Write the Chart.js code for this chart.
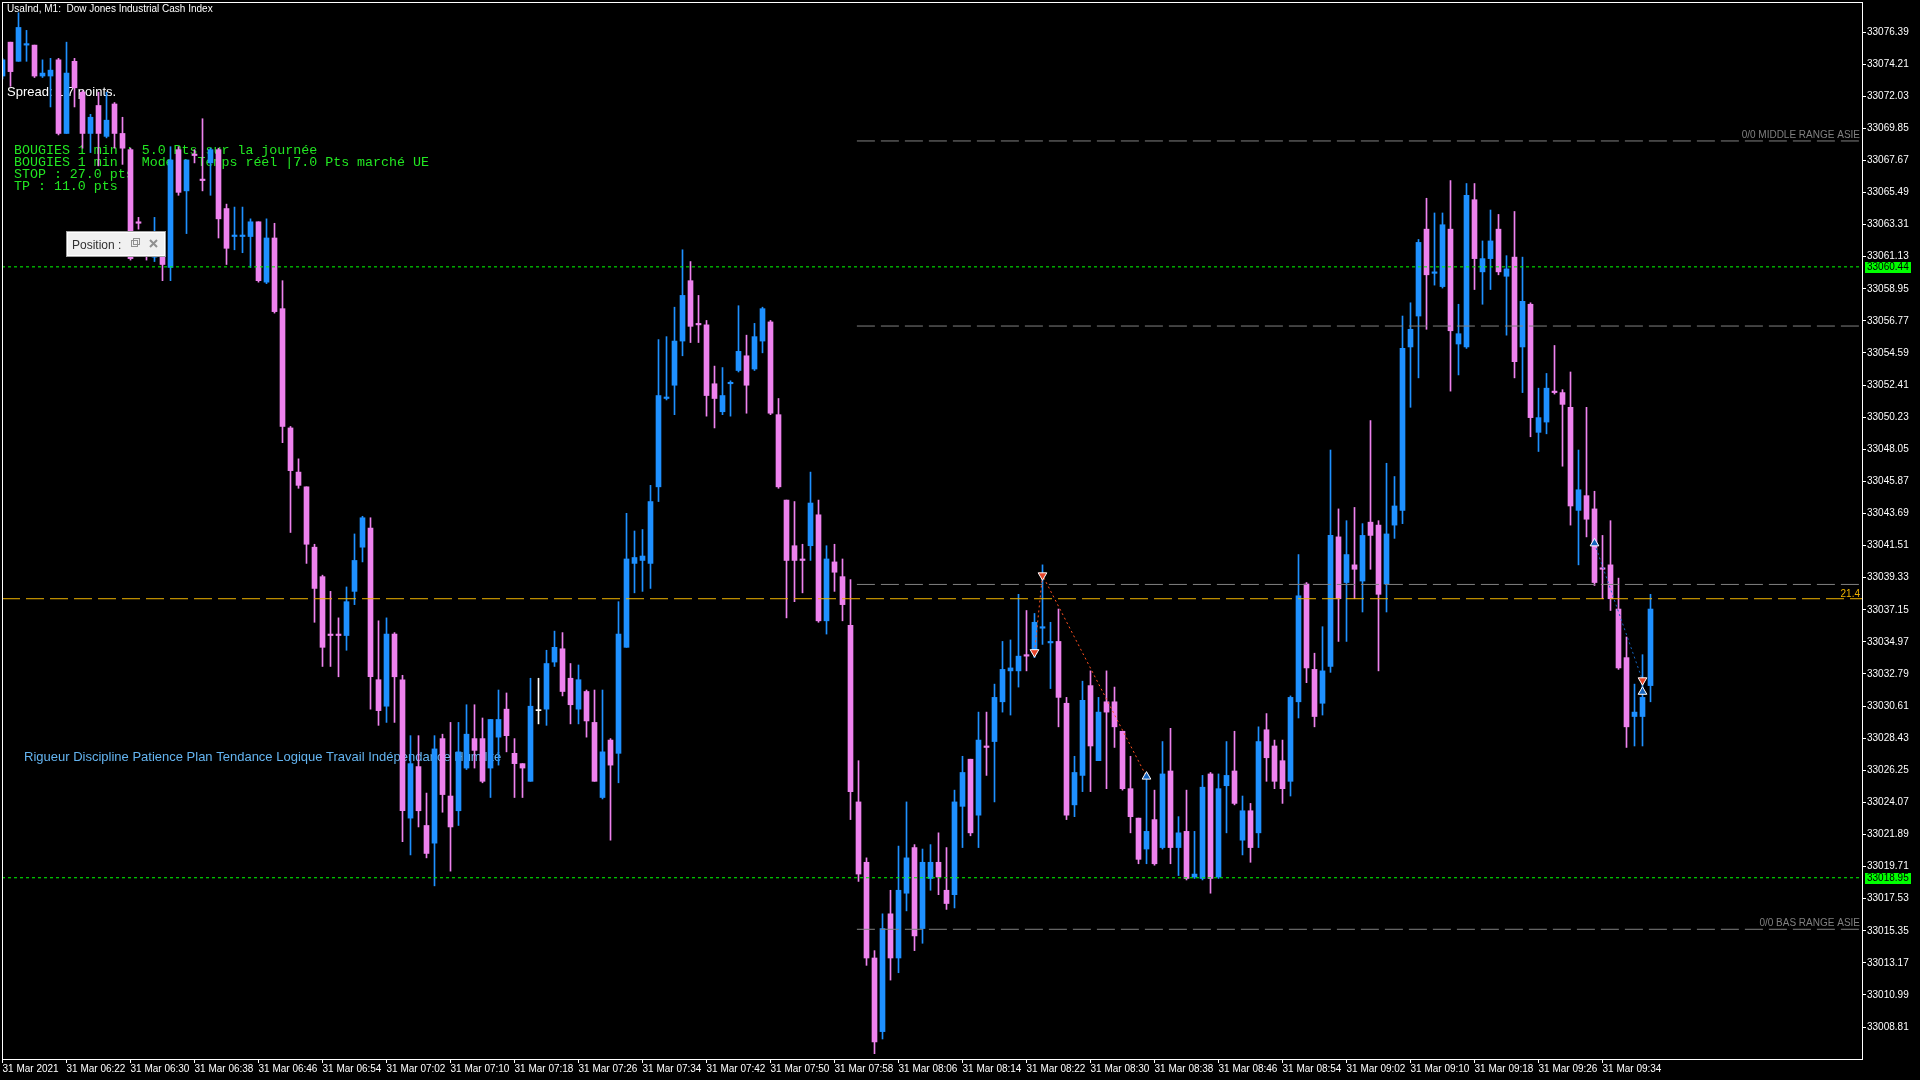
<!DOCTYPE html>
<html>
<head>
<meta charset="utf-8">
<script src="https://cdn.jsdelivr.net/npm/chart.js@4.4.1/dist/chart.umd.min.js"></script>
<style>
html, body { margin: 0; padding: 0; background: #000; }
canvas { display: block; }
</style>
</head>
<body>
<canvas id="ctx_usaind" width="1920" height="1080"></canvas>
<script>
// UsaInd M1, 31 Mar 2021, one bar per minute from 06:14 to 09:40
var opens = [
  33073.4, 33075.7, 33074.4, 33075.5, 33075.5, 33073.4, 33073.4, 33074.5, 33069.5, 33074.4,
  33072.3, 33069.5, 33071.4, 33069.3, 33071.5, 33069.5, 33068.4, 33063.5, 33062.3, 33061.1,
  33061.2, 33060.4, 33068.4, 33065.6, 33068.1, 33066.4, 33067.5, 33068.4, 33064.4, 33062.5,
  33062.5, 33062.5, 33063.5, 33059.4, 33062.4, 33057.6, 33049.5, 33046.5, 33045.5, 33041.4,
  33039.4, 33035.5, 33035.5, 33035.4, 33038.4, 33041.4, 33042.7, 33032.4, 33030.6, 33035.5,
  33032.4, 33023.0, 33026.5, 33022.5, 33021.3, 33028.4, 33024.5, 33023.5, 33026.4, 33028.4,
  33028.4, 33026.4, 33028.5, 33030.4, 33027.4, 33026.7, 33025.5, 33030.3, 33030.4, 33033.6,
  33034.5, 33032.5, 33030.4, 33031.6, 33029.5, 33024.4, 33028.3, 33027.4, 33034.6, 33040.3,
  33040.5, 33040.3, 33045.5, 33051.5, 33052.4, 33055.4, 33059.5, 33056.6, 33056.5, 33052.5,
  33050.6, 33052.5, 33053.4, 33054.4, 33053.5, 33055.4, 33056.7, 33050.4, 33044.6, 33041.5,
  33040.6, 33041.5, 33043.6, 33036.4, 33040.4, 33039.4, 33036.1, 33024.1, 33020.0, 33013.5,
  33008.5, 33016.5, 33013.5, 33017.9, 33021.0, 33015.5, 33018.9, 33020.0, 33018.1, 33017.8,
  33023.8, 33027.0, 33023.2, 33027.9, 33028.2, 33030.9, 33033.0, 33033.0, 33034.1, 33034.2,
  33035.9, 33034.9, 33035.0, 33030.8, 33023.9, 33025.9, 33032.0, 33026.9, 33030.9, 33030.9,
  33028.9, 33025.0, 33023.0, 33020.9, 33022.9, 33021.0, 33026.2, 33021.0, 33022.1, 33019.0,
  33018.9, 33026.0, 33019.0, 33025.2, 33026.2, 33021.5, 33023.5, 33022.0, 33029.0, 33027.9,
  33026.9, 33025.5, 33030.9, 33038.9, 33033.1, 33030.8, 33033.3, 33042.1, 33039.0, 33040.2,
  33039.1, 33043.1, 33042.9, 33038.9, 33042.9, 33043.9, 33055.0, 33057.1, 33063.0, 33060.0,
  33059.1, 33063.0, 33055.2, 33055.0, 33065.0, 33060.1, 33061.0, 33063.0, 33059.8, 33061.1,
  33055.0, 33057.9, 33049.2, 33049.9, 33052.0, 33051.9, 33050.9, 33043.9, 33044.9, 33044.0,
  33040.0, 33040.2, 33037.2, 33033.9, 33029.9, 33029.9, 33032.0
];
var highs = [
  33074.6, 33075.7, 33077.7, 33076.5, 33075.5, 33074.5, 33074.6, 33074.6, 33075.7, 33074.6,
  33072.4, 33070.8, 33072.3, 33072.3, 33071.6, 33070.6, 33068.5, 33063.8, 33062.6, 33063.8,
  33061.8, 33068.6, 33068.6, 33067.7, 33068.4, 33070.5, 33068.5, 33068.5, 33064.7, 33064.5,
  33064.5, 33063.7, 33063.5, 33063.7, 33063.4, 33059.5, 33049.6, 33047.4, 33045.5, 33041.6,
  33039.5, 33038.4, 33036.6, 33038.7, 33042.3, 33043.5, 33043.4, 33036.4, 33036.6, 33035.6,
  33032.7, 33028.6, 33028.6, 33024.7, 33028.6, 33028.7, 33029.5, 33029.5, 33030.7, 33030.7,
  33029.8, 33029.7, 33031.7, 33031.5, 33028.4, 33026.7, 33032.5, 33032.5, 33034.4, 33035.7,
  33035.6, 33033.5, 33033.4, 33031.7, 33031.7, 33031.7, 33028.4, 33037.7, 33043.7, 33042.5,
  33042.6, 33045.6, 33055.5, 33055.7, 33057.7, 33061.6, 33060.8, 33058.5, 33056.8, 33053.7,
  33053.6, 33052.7, 33057.8, 33055.8, 33056.6, 33057.7, 33056.8, 33051.5, 33044.6, 33044.5,
  33041.6, 33046.5, 33044.6, 33041.5, 33041.6, 33040.6, 33039.2, 33026.9, 33020.3, 33014.0,
  33016.5, 33018.1, 33021.1, 33024.1, 33021.2, 33020.9, 33021.2, 33022.0, 33021.0, 33024.9,
  33027.2, 33027.0, 33030.2, 33030.2, 33032.1, 33035.0, 33035.1, 33038.2, 33037.1, 33036.9,
  33040.2, 33036.3, 33037.2, 33031.2, 33027.2, 33032.3, 33033.0, 33031.2, 33033.0, 33031.9,
  33028.9, 33027.2, 33023.0, 33026.0, 33024.9, 33028.2, 33029.1, 33023.1, 33024.9, 33022.1,
  33025.9, 33026.1, 33026.0, 33028.2, 33028.9, 33024.5, 33024.0, 33029.2, 33030.1, 33028.3,
  33028.3, 33031.3, 33040.9, 33039.0, 33034.2, 33036.0, 33048.0, 33044.0, 33043.2, 33044.1,
  33043.0, 33050.0, 33043.2, 33047.1, 33046.2, 33057.1, 33058.0, 33062.3, 33065.1, 33064.1,
  33064.1, 33066.3, 33057.9, 33066.1, 33066.1, 33062.2, 33064.3, 33064.0, 33061.2, 33064.2,
  33061.1, 33058.0, 33052.2, 33053.2, 33055.1, 33052.1, 33053.3, 33048.0, 33050.9, 33045.2,
  33042.2, 33043.2, 33039.3, 33035.3, 33032.1, 33034.1, 33038.2
];
var lows = [
  33073.2, 33072.7, 33074.4, 33074.4, 33073.3, 33073.3, 33071.3, 33069.4, 33069.5, 33071.3,
  33068.5, 33068.2, 33067.3, 33069.2, 33068.5, 33067.4, 33060.9, 33063.0, 33060.9, 33060.8,
  33059.5, 33059.5, 33065.3, 33062.7, 33067.5, 33065.6, 33065.3, 33062.4, 33060.6, 33061.6,
  33061.4, 33060.4, 33059.4, 33059.3, 33057.3, 33048.5, 33042.4, 33045.4, 33040.3, 33036.3,
  33033.3, 33033.3, 33032.6, 33034.4, 33037.5, 33040.4, 33030.4, 33029.3, 33029.5, 33029.5,
  33021.4, 33020.5, 33022.4, 33020.3, 33018.4, 33023.4, 33019.4, 33022.5, 33026.3, 33026.4,
  33025.4, 33024.4, 33026.6, 33027.5, 33024.4, 33024.4, 33025.5, 33029.4, 33029.3, 33033.3,
  33031.3, 33029.4, 33029.4, 33028.5, 33025.5, 33024.3, 33021.5, 33025.4, 33034.6, 33038.3,
  33038.4, 33038.6, 33044.5, 33051.4, 33050.4, 33054.4, 33055.3, 33055.3, 33050.3, 33049.5,
  33050.4, 33050.3, 33053.3, 33050.5, 33053.4, 33054.6, 33050.4, 33045.4, 33036.6, 33037.7,
  33038.3, 33040.5, 33036.3, 33035.5, 33038.4, 33036.4, 33022.9, 33018.7, 33013.0, 33007.0,
  33008.0, 33012.0, 33012.5, 33016.7, 33014.0, 33014.5, 33018.1, 33017.8, 33016.8, 33016.9,
  33021.0, 33021.8, 33021.0, 33025.9, 33024.1, 33030.2, 33030.0, 33031.9, 33033.0, 33033.9,
  33034.8, 33031.8, 33029.2, 33022.9, 33023.1, 33024.8, 33024.8, 33026.9, 33025.0, 33027.8,
  33024.9, 33022.0, 33019.9, 33019.9, 33019.8, 33020.9, 33019.9, 33019.1, 33018.8, 33018.9,
  33018.8, 33017.9, 33018.9, 33022.0, 33023.9, 33020.5, 33020.0, 33021.0, 33025.5, 33025.0,
  33024.0, 33024.5, 33029.8, 33032.2, 33029.2, 33030.0, 33032.9, 33035.0, 33035.0, 33037.9,
  33037.0, 33039.9, 33033.0, 33037.0, 33042.0, 33043.0, 33050.9, 33052.9, 33056.2, 33059.2,
  33059.0, 33052.0, 33053.1, 33054.9, 33058.9, 33057.9, 33058.9, 33059.9, 33055.8, 33052.9,
  33051.9, 33048.9, 33047.9, 33049.1, 33051.8, 33046.9, 33042.9, 33040.2, 33042.1, 33038.8,
  33037.9, 33037.1, 33033.1, 33027.8, 33027.9, 33027.9, 33030.9
];
var closes = [
  33074.5, 33073.7, 33076.7, 33075.6, 33073.4, 33073.6, 33073.8, 33069.5, 33073.6, 33072.6,
  33069.5, 33070.6, 33069.5, 33070.4, 33069.5, 33068.5, 33061.0, 33063.4, 33061.2, 33062.3,
  33060.6, 33067.7, 33065.5, 33067.7, 33068.0, 33066.3, 33068.4, 33063.7, 33061.7, 33062.6,
  33062.6, 33063.5, 33059.5, 33062.4, 33057.4, 33049.6, 33046.6, 33045.6, 33041.6, 33038.6,
  33034.6, 33035.4, 33035.4, 33037.7, 33040.5, 33043.4, 33032.6, 33030.3, 33035.5, 33032.6,
  33023.5, 33026.7, 33023.5, 33020.6, 33027.7, 33024.6, 33022.4, 33027.5, 33028.7, 33027.6,
  33025.5, 33029.7, 33029.7, 33028.6, 33026.7, 33026.4, 33030.6, 33030.3, 33033.5, 33034.6,
  33031.6, 33030.7, 33032.4, 33029.6, 33025.5, 33027.5, 33026.6, 33035.5, 33040.6, 33040.7,
  33040.8, 33044.5, 33051.7, 33051.6, 33055.4, 33058.5, 33056.4, 33056.5, 33051.7, 33051.5,
  33051.7, 33052.6, 33054.7, 33052.4, 33055.7, 33057.6, 33050.5, 33045.5, 33040.5, 33040.5,
  33040.5, 33044.4, 33036.4, 33040.6, 33039.7, 33037.5, 33024.8, 33019.2, 33013.5, 33007.8,
  33015.5, 33013.5, 33018.1, 33020.3, 33015.0, 33020.0, 33020.0, 33019.0, 33017.2, 33024.1,
  33026.1, 33022.0, 33028.3, 33027.8, 33031.2, 33033.1, 33033.2, 33034.0, 33034.0, 33036.3,
  33036.0, 33035.0, 33031.2, 33023.2, 33026.1, 33031.0, 33027.9, 33030.2, 33030.2, 33029.2,
  33025.0, 33023.1, 33020.2, 33022.1, 33019.9, 33026.0, 33021.0, 33022.0, 33018.9, 33019.2,
  33025.1, 33018.9, 33025.0, 33025.9, 33024.0, 33023.5, 33021.0, 33028.2, 33027.1, 33025.5,
  33025.0, 33031.2, 33038.1, 33033.2, 33029.9, 33033.0, 33042.2, 33037.9, 33040.9, 33039.9,
  33042.2, 33042.2, 33038.2, 33042.3, 33044.2, 33054.9, 33056.2, 33062.1, 33059.9, 33060.1,
  33063.3, 33056.1, 33055.9, 33065.3, 33061.0, 33061.0, 33062.2, 33060.1, 33060.3, 33054.0,
  33058.1, 33050.2, 33050.2, 33052.2, 33051.9, 33051.1, 33044.2, 33045.3, 33043.3, 33039.0,
  33039.9, 33037.9, 33033.2, 33029.2, 33030.2, 33031.2, 33037.2
];

var timeTickBars = [0, 8, 16, 24, 32, 40, 48, 56, 64, 72, 80, 88, 96, 104, 112, 120, 128, 136, 144, 152, 160, 168, 176, 184, 192, 200];
var timeLabels = [
  '31 Mar 2021', '31 Mar 06:22', '31 Mar 06:30', '31 Mar 06:38', '31 Mar 06:46', '31 Mar 06:54',
  '31 Mar 07:02', '31 Mar 07:10', '31 Mar 07:18', '31 Mar 07:26', '31 Mar 07:34', '31 Mar 07:42',
  '31 Mar 07:50', '31 Mar 07:58', '31 Mar 08:06', '31 Mar 08:14', '31 Mar 08:22', '31 Mar 08:30',
  '31 Mar 08:38', '31 Mar 08:46', '31 Mar 08:54', '31 Mar 09:02', '31 Mar 09:10', '31 Mar 09:18',
  '31 Mar 09:26', '31 Mar 09:34'
];
var priceTicks = [
  33076.39, 33074.21, 33072.03, 33069.85, 33067.67, 33065.49, 33063.31, 33061.13,
  33058.95, 33056.77, 33054.59, 33052.41, 33050.23, 33048.05, 33045.87, 33043.69,
  33041.51, 33039.33, 33037.15, 33034.97, 33032.79, 33030.61, 33028.43, 33026.25,
  33024.07, 33021.89, 33019.71, 33017.53, 33015.35, 33013.17, 33010.99, 33008.81
];

var greenLevels = [33060.44, 33018.95];
var grayLevels = [33068.99, 33056.42, 33038.87, 33015.45];
var grayLabels = ['0/0 MIDDLE RANGE ASIE', '', '', '0/0 BAS RANGE ASIE'];
var grayStartBar = 106.8;
var yellowLevel = 33037.90;
var yellowLabel = '21.4';

var sellTrade = [{ x: 129, y: 33034.27 }, { x: 130, y: 33039.49 }, { x: 143, y: 33025.82 }];
var buyTrade = [{ x: 199, y: 33041.66 }, { x: 205, y: 33032.36 }];
var downArrows = [{ x: 129, y: 33034.27 }, { x: 130, y: 33039.49 }, { x: 205, y: 33032.36 }];
var upArrows = [{ x: 143, y: 33025.82 }, { x: 199, y: 33041.66 }, { x: 205, y: 33031.58 }];

var X_MIN = -0.0625, X_MAX = 232.4375;
var Y_MIN = 33006.64, Y_MAX = 33078.36;

var BULL = '#1e90ff', BEAR = '#ee82ee', DOJI = '#ffffff';

var candleColors = opens.map(function (o, i) {
  if (closes[i] > o) return BULL;
  if (closes[i] < o) return BEAR;
  return DOJI;
});
var bodies = opens.map(function (o, i) { return { x: i, y: [o, closes[i]] }; });
var wicks = opens.map(function (o, i) { return { x: i, y: [lows[i], highs[i]] }; });

function levelLine(price, from, color, dash, order) {
  return {
    type: 'line',
    data: [{ x: from, y: price }, { x: X_MAX, y: price }],
    borderColor: color,
    borderWidth: 1,
    borderDash: dash,
    pointRadius: 0,
    order: order
  };
}

var levelSets = [];
greenLevels.forEach(function (p) { levelSets.push(levelLine(p, X_MIN, '#00ff00', [3, 3], 3)); });
grayLevels.forEach(function (p) { levelSets.push(levelLine(p, grayStartBar, '#808080', [18, 6], 3)); });
levelSets.push(levelLine(yellowLevel, X_MIN, '#f0b400', [18, 6], 3));

function noPadding(scale) {
  scale.paddingLeft = 0;
  scale.paddingRight = 0;
  scale.paddingTop = 0;
  scale.paddingBottom = 0;
}

var overlay = {
  id: 'overlay',
  beforeDraw: function (chart) {
    var c = chart.ctx;
    c.save();
    c.fillStyle = '#000';
    c.fillRect(0, 0, chart.width, chart.height);
    c.restore();
  },
  beforeDatasetsDraw: function (chart) {
    var c = chart.ctx;
    c.save();
    c.textAlign = 'left';
    c.textBaseline = 'alphabetic';
    c.fillStyle = '#ffffff';
    c.font = '13px "Liberation Sans", Arial, sans-serif';
    c.fillText('Spread: 1.7 points.', 7, 96);

    c.fillStyle = '#22e622';
    c.font = '13.3px "Liberation Mono", "Courier New", monospace';
    c.fillText('BOUGIES 1 min : 5.0 Pts sur la journée', 14, 154);
    c.fillText('BOUGIES 1 min | Mode : Temps réel |7.0 Pts marché UE', 14, 166);
    c.fillText('STOP : 27.0 pts', 14, 178);
    c.fillText('TP : 11.0 pts', 14, 190);

    c.fillStyle = '#64b4f0';
    c.font = '13px "Liberation Sans", Arial, sans-serif';
    c.fillText('Rigueur Discipline Patience Plan Tendance Logique Travail Indépendance Humilité', 24, 761);
    c.restore();
  },
  afterDraw: function (chart) {
    var c = chart.ctx;
    var ca = chart.chartArea;
    var ys = chart.scales.y;
    c.save();

    // frame
    c.strokeStyle = '#ffffff';
    c.lineWidth = 1;
    c.strokeRect(ca.left + 0.5, ca.top - 0.5, ca.right - ca.left, ca.bottom - ca.top + 1);

    // symbol title
    c.fillStyle = '#ffffff';
    c.font = '10px "Liberation Sans", Arial, sans-serif';
    c.textAlign = 'left';
    c.fillText('UsaInd, M1:  Dow Jones Industrial Cash Index', 7, 12);

    // range labels
    c.textAlign = 'right';
    c.fillStyle = '#808080';
    grayLevels.forEach(function (p, i) {
      if (grayLabels[i]) c.fillText(grayLabels[i], ca.right - 2, ys.getPixelForValue(p) - 3);
    });
    c.fillStyle = '#f0b400';
    c.fillText(yellowLabel, ca.right - 2, ys.getPixelForValue(yellowLevel) - 2);

    // price boxes on the axis
    c.textAlign = 'left';
    c.textBaseline = 'middle';
    greenLevels.forEach(function (p) {
      var y = Math.round(ys.getPixelForValue(p));
      c.fillStyle = '#00ff00';
      c.fillRect(ca.right + 3, y - 5, 46, 11);
      c.fillStyle = '#000000';
      c.fillText(p.toFixed(2), ca.right + 5, y + 0.5);
    });

    // "Position" panel
    c.textBaseline = 'alphabetic';
    c.fillStyle = '#f0f0f0';
    c.fillRect(66, 231, 100, 26);
    c.strokeStyle = '#a0a0a0';
    c.strokeRect(66.5, 231.5, 99, 25);
    c.strokeStyle = '#ffffff';
    c.strokeRect(67.5, 232.5, 97, 23);
    c.fillStyle = '#303030';
    c.font = '12px "Liberation Sans", Arial, sans-serif';
    c.fillText('Position :', 72, 249);
    c.strokeStyle = '#909090';
    c.strokeRect(131.5, 240.5, 6, 6);
    c.strokeRect(133.5, 238.5, 6, 6);
    c.beginPath();
    c.moveTo(150, 240); c.lineTo(157, 247);
    c.moveTo(157, 240); c.lineTo(150, 247);
    c.lineWidth = 2;
    c.stroke();
    c.restore();
  }
};

var ctx = document.getElementById('ctx_usaind');
var chart = new Chart(ctx, {
  type: 'bar',
  data: {
    datasets: [
      {
        type: 'scatter',
        data: downArrows,
        pointStyle: 'triangle',
        rotation: 180,
        pointRadius: 5,
        backgroundColor: '#e8442a',
        borderColor: '#ffffff',
        borderWidth: 1,
        order: 1
      },
      {
        type: 'scatter',
        data: upArrows,
        pointStyle: 'triangle',
        pointRadius: 5,
        backgroundColor: '#1565c0',
        borderColor: '#ffffff',
        borderWidth: 1,
        order: 1
      },
      {
        type: 'line',
        data: sellTrade,
        borderColor: '#ff5020',
        borderWidth: 1,
        borderDash: [2, 3],
        pointRadius: 0,
        order: 2
      },
      {
        type: 'line',
        data: buyTrade,
        borderColor: '#1565c0',
        borderWidth: 1,
        borderDash: [2, 3],
        pointRadius: 0,
        order: 2
      }
    ].concat(levelSets).concat([
      {
        data: bodies,
        backgroundColor: candleColors,
        barThickness: 5,
        minBarLength: 1,
        grouped: false,
        borderWidth: 0,
        order: 4
      },
      {
        data: wicks,
        backgroundColor: candleColors,
        barThickness: 1,
        minBarLength: 1,
        grouped: false,
        borderWidth: 0,
        order: 5
      }
    ])
  },
  options: {
    responsive: false,
    animation: false,
    events: [],
    layout: { autoPadding: false, padding: { left: 2, top: 3, right: 0, bottom: 0 } },
    plugins: {
      legend: { display: false },
      tooltip: { enabled: false }
    },
    scales: {
      x: {
        type: 'linear',
        min: X_MIN,
        max: X_MAX,
        offset: false,
        grid: { display: true, offset: false, drawOnChartArea: false, drawTicks: true, tickLength: 4, color: '#ffffff' },
        border: { display: false },
        afterBuildTicks: function (scale) {
          scale.ticks = timeTickBars.map(function (v) { return { value: v }; });
        },
        afterFit: function (scale) { scale.height = 21; noPadding(scale); },
        ticks: {
          autoSkip: false,
          maxRotation: 0,
          align: 'start',
          padding: 0,
          color: '#ffffff',
          font: { size: 10, family: '"Liberation Sans", Arial, sans-serif' },
          callback: function (value, index) { return timeLabels[index]; }
        }
      },
      y: {
        position: 'right',
        min: Y_MIN,
        max: Y_MAX,
        grid: { display: true, drawOnChartArea: false, drawTicks: true, tickLength: 4, color: '#ffffff' },
        border: { display: false },
        afterBuildTicks: function (scale) {
          scale.ticks = priceTicks.map(function (v) { return { value: v }; });
        },
        afterFit: function (scale) { scale.width = 58; noPadding(scale); },
        ticks: {
          autoSkip: false,
          padding: 1,
          color: '#ffffff',
          font: { size: 10, family: '"Liberation Sans", Arial, sans-serif' },
          callback: function (value) { return value.toFixed(2); }
        }
      }
    }
  },
  plugins: [overlay]
});
</script>
</body>
</html>
